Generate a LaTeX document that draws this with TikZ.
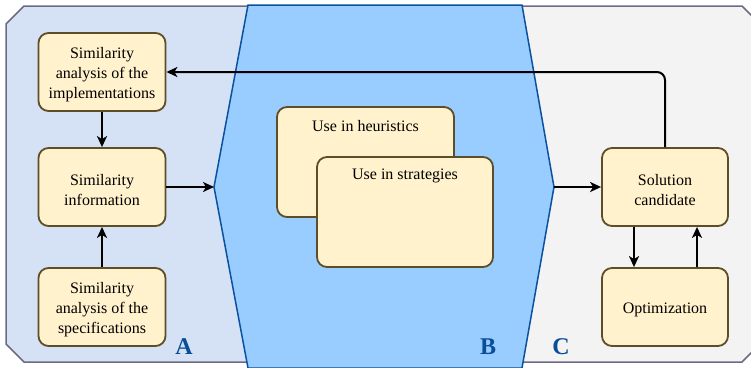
\documentclass[tikz,border=0pt]{standalone}
\usepackage{fontspec}
\setmainfont{Liberation Serif}
\usetikzlibrary{arrows.meta}
\definecolor{zoneA}{HTML}{D5E2F5}
\definecolor{zoneC}{HTML}{F3F3F3}
\definecolor{zoneB}{HTML}{99CCFF}
\definecolor{zoneBline}{HTML}{0A52A0}
\definecolor{outline}{HTML}{6E6A84}
\definecolor{boxfill}{HTML}{FFF2CC}
\definecolor{boxline}{HTML}{5E4E28}
\definecolor{lettercol}{HTML}{0A4D99}
\newcommand{\firststrut}{\rule{0pt}{16.5pt}}
\tikzset{
  box/.style={draw=boxline, fill=boxfill, line width=1.8pt, rounded corners=10pt,
    inner sep=0pt, align=center, font=\fontsize{16}{20}\selectfont},
  txt/.style={inner sep=0pt, font=\fontsize{16}{20}\selectfont},
  arr/.style={draw=black, line width=2pt, -{Stealth[length=11pt,width=10pt,inset=3pt]}},
  zonelabel/.style={inner sep=0pt, text=lettercol, font=\fontsize{24}{28}\selectfont\bfseries}
}
\begin{document}
\begin{tikzpicture}[x=1pt,y=-1pt]
\useasboundingbox (0,0) rectangle (751,367);
% outer zones
\fill[zoneC] (24,6) -- (742,6) -- (762,26) -- (762,342) -- (742,362) -- (24,362) -- (6,344) -- (6,24) -- cycle;
\fill[zoneA] (24,6) -- (300,6) -- (300,362) -- (24,362) -- (6,344) -- (6,24) -- cycle;
\draw[outline, line width=1.5pt] (24,6) -- (742,6) -- (762,26) -- (762,342) -- (742,362) -- (24,362) -- (6,344) -- (6,24) -- cycle;
% hexagon B
\coordinate (hl) at (214,187);
\coordinate (hr) at (554,187);
\draw[zoneBline, fill=zoneB, line width=1.5pt] (248,5) -- (522,5) -- (hr) -- (522,368) -- (248,368) -- (hl) -- cycle;
% boxes zone A
\node[box, minimum width=127pt, minimum height=78pt] (impl) at (102,72) {\firststrut Similarity\\analysis of the\\implementations};
\node[box, minimum width=127pt, minimum height=78pt] (info) at (102,187) {\firststrut Similarity\\information};
\node[box, minimum width=127pt, minimum height=78pt] (spec) at (102,307) {\firststrut Similarity\\analysis of the\\specifications};
% boxes zone B
\node[box, minimum width=177pt, minimum height=110pt] (heur) at (365.5,162) {};
\node[txt] (heurtxt) at (365.5,126) {Use in heuristics};
\node[box, minimum width=176pt, minimum height=110pt] (strat) at (405,212) {};
\node[txt] (strattxt) at (405,176) {Use in strategies};
% boxes zone C
\node[box, minimum width=126pt, minimum height=78pt] (sol) at (665,187) {\firststrut Solution\\candidate};
\node[box, minimum width=126pt, minimum height=78pt] (opt) at (665,307) {\firststrut Optimization};
% connectors
\draw[arr] (impl.south) -- (info.north);
\draw[arr] (spec.north) -- (info.south);
\draw[arr] (info.east) -- (hl);
\draw[arr] (hr) -- (sol.west);
\draw[arr, rounded corners=8pt] (sol.north) |- (impl.east);
\draw[arr] ([xshift=-31pt]sol.south) -- ([xshift=-31pt]opt.north);
\draw[arr] ([xshift=32pt]opt.north) -- ([xshift=32pt]sol.south);
% zone labels
\node[zonelabel] (la) at (184,347) {A};
\node[zonelabel] (lb) at (488,347) {B};
\node[zonelabel] (lc) at (561,347) {C};
\end{tikzpicture}
\end{document}
